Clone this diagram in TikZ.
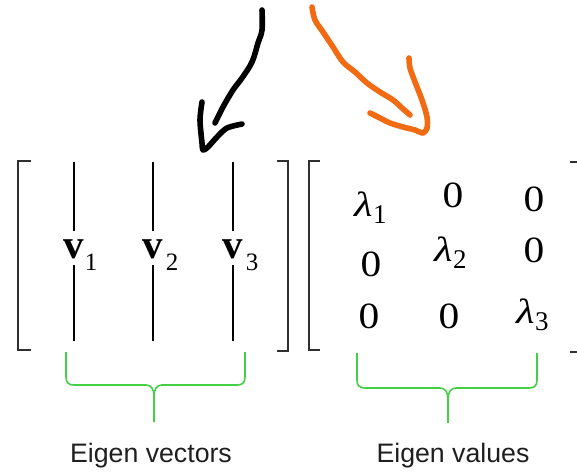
\documentclass[tikz,border=0pt]{standalone}
\usepackage{fontspec}
\setmainfont{Liberation Serif}
\newfontfamily\labelfont{Liberation Sans}
\definecolor{arroworange}{HTML}{F26A12}
\definecolor{bracegreen}{HTML}{45CF45}
\definecolor{brackgray}{HTML}{303030}
\newcommand{\wz}{\scalebox{1.12}[1]{0}}
\newcommand{\lamsub}[1]{\scalebox{1.22}[1]{λ}\kern0.3pt\raisebox{-7pt}{\fontsize{27}{30}\selectfont\upshape #1}}
\tikzset{
  brack/.style={draw=brackgray, line width=1.5pt},
  vline/.style={draw=black, line width=1.2pt},
  brace/.style={draw=bracegreen, line width=1.6pt, line join=round},
  pen/.style={line width=5.6pt, line cap=round, line join=round},
  entry/.style={inner sep=0pt, font=\fontsize{37}{40}\selectfont},
  lam/.style={inner sep=0pt, anchor=base west, font=\fontsize{35}{38}\selectfont\itshape},
  vsub/.style={inner sep=0pt, font=\fontsize{25}{28}\selectfont},
  vec/.style={inner sep=0pt, font=\fontsize{41}{44}\selectfont\bfseries},
  caption/.style={inner sep=0pt, anchor=base, font=\fontsize{26.7}{29}\labelfont, text=black!88}
}
\begin{document}
\begin{tikzpicture}[x=1pt,y=-1pt]
\useasboundingbox (0,0) rectangle (577,472);

% hand-drawn arrows
\draw[pen, black] plot[smooth, tension=0.6] coordinates {(262,10) (262,30) (258,43) (252,62) (242,78) (233,90) (223,107) (215,123)};
\draw[pen, black] plot[smooth, tension=0.5] coordinates {(202,102) (200,120) (202,143) (203,150) (208,147) (217,137) (227,128) (242,124)};
\draw[pen, arroworange] plot[smooth, tension=0.6] coordinates {(312,7) (315,20) (323,32) (333,47) (343,62) (355,72) (367,83) (380,92) (393,100) (402,108) (410,115)};
\draw[pen, arroworange] plot[smooth, tension=0.5] coordinates {(409,58) (410,68) (415,82) (422,100) (427,117) (427,128) (423,133) (415,130) (403,127) (390,123) (380,118) (370,113)};

% first matrix brackets
\coordinate (b1tl) at (31,161); \coordinate (b1bl) at (31,350);
\draw[brack] (b1tl) -- (18,161) -- (18,350) -- (b1bl);
\coordinate (b1tr) at (277,161); \coordinate (b1br) at (277,351);
\draw[brack] (b1tr) -- (288,161) -- (288,351) -- (b1br);

% second matrix brackets
\coordinate (b2tl) at (320,161); \coordinate (b2bl) at (320,350);
\draw[brack] (b2tl) -- (309,161) -- (309,350) -- (b2bl);
\coordinate (b2tr) at (570,162); \coordinate (b2br) at (570,352);
\draw[brack] (b2tr) -- (578,162) -- (578,352) -- (b2br);

% eigenvector columns
\foreach \n/\x/\sx in {1/74/91, 2/153/172, 3/233/252}{
  \node[vec] (v\n) at (\x,249) {v};
  \node[vsub] (s\n) at (\sx,262) {\n};
  \coordinate (t\n) at (\x,162);
  \coordinate (u\n) at (\x,341);
  \draw[vline] (t\n) -- (\x,231);
  \draw[vline] (\x,265) -- (u\n);
}

% eigenvalue matrix
\node[lam] (l1) at (354,216) {\lamsub{1}};
\node[entry] (z12) at (453,195) {\wz};
\node[entry] (z13) at (534,199) {\wz};
\node[entry] (z21) at (371,264) {\wz};
\node[lam] (l2) at (434,261) {\lamsub{2}};
\node[entry] (z23) at (534,250) {\wz};
\node[entry] (z31) at (369,316) {\wz};
\node[entry] (z32) at (449,316) {\wz};
\node[lam] (l3) at (516,323) {\lamsub{3}};

% green braces
\draw[brace] (66,352) -- (66,377) .. controls (66,383) and (69,385) .. (74,385) -- (146,385)
  .. controls (151,385) and (154,389) .. (154,396) -- (154,422);
\draw[brace] (154,396) .. controls (154,389) and (157,385) .. (162,385) -- (237,385)
  .. controls (242,385) and (245,383) .. (245,377) -- (245,352);
\draw[brace] (357,353) -- (357,380) .. controls (357,386) and (360,388) .. (365,388) -- (440,388)
  .. controls (445,388) and (448,392) .. (448,399) -- (448,423);
\draw[brace] (448,399) .. controls (448,392) and (451,388) .. (456,388) -- (529,388)
  .. controls (534,388) and (537,386) .. (537,380) -- (537,353);

% captions
\node[caption] (cap1) at (151,462) {Eigen vectors};
\node[caption] (cap2) at (453,462) {Eigen values};
\end{tikzpicture}
\end{document}
